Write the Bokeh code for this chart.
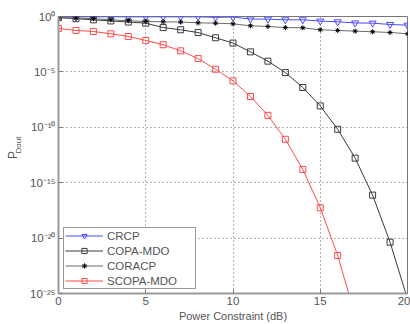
from bokeh.plotting import figure
from bokeh.models import (Range1d, FixedTicker, CustomJSTickFormatter, Legend,
                          LegendItem, LogAxis)
from bokeh.embed import file_html
from bokeh.resources import INLINE

# Power constraint (dB)
power_db = list(range(0, 21))

# log10 of outage probability
crcp_exp = [-0.03, -0.03, -0.03, -0.03, -0.03, -0.03, -0.03, -0.03, -0.03, -0.08, -0.05,
            -0.23, -0.24, -0.30, -0.30, -0.41, -0.48, -0.58, -0.60, -0.72, -0.78]
copa_exp = [-0.10, -0.20, -0.30, -0.40, -0.50, -0.60, -1.00, -1.20, -1.45, -1.92, -2.40,
            -3.19, -4.03, -5.06, -6.41, -8.07, -10.18, -12.78, -16.12, -20.37, -25.50]
coracp_exp = [-0.12, -0.13, -0.20, -0.30, -0.38, -0.45, -0.48, -0.50, -0.57, -0.60, -0.66,
              -0.84, -0.90, -1.00, -1.02, -1.20, -1.26, -1.32, -1.38, -1.44, -1.56]
scopa_x = list(range(0, 18))
scopa_exp = [-1.08, -1.26, -1.35, -1.56, -1.80, -2.16, -2.55, -3.10, -3.80, -4.76, -5.81,
             -7.22, -8.92, -11.08, -13.80, -17.26, -21.57, -27.00]

y_ticks = [1e-25, 1e-20, 1e-15, 1e-10, 1e-5, 1.0]
x_ticks = [0, 5, 10, 15, 20]
series_names = ["CRCP", "COPA-MDO", "CORACP", "SCOPA-MDO"]

FONT = "Liberation Sans"
TXT = "#555555"

p = figure(width=410, height=324, output_backend="svg", toolbar_location=None,
           y_axis_type="log", x_range=Range1d(0, 20), y_range=Range1d(1e-25, 1.0),
           min_border_left=58, min_border_right=3, min_border_top=16, min_border_bottom=31)
p.background_fill_color = "white"
p.border_fill_color = "white"
p.outline_line_color = "#777777"
p.outline_line_width = 1

def pw(exps):
    return [10.0 ** e for e in exps]

blue = "#4a4aff"
red = "#ff4a4a"
dark = "#3a3a3a"
gray = "#6a6a6a"

r1l = p.line(power_db, pw(crcp_exp), line_color=blue, line_width=1)
r1m = p.scatter(power_db, pw(crcp_exp), marker="inverted_triangle", size=7,
                line_color=blue, fill_color=None, line_width=1)
r2l = p.line(power_db, pw(copa_exp), line_color=dark, line_width=1)
r2m = p.scatter(power_db, pw(copa_exp), marker="square", size=6,
                line_color=dark, fill_color=None, line_width=1)
r3l = p.line(power_db, pw(coracp_exp), line_color=gray, line_width=1)
r3m = p.scatter(power_db, pw(coracp_exp), marker="asterisk", size=5,
                line_color="black", line_width=1)
r4l = p.line(scopa_x, pw(scopa_exp), line_color=red, line_width=1)
r4m = p.scatter(scopa_x, pw(scopa_exp), marker="square", size=6,
                line_color=red, fill_color=None, line_width=1)

# axes
p.xaxis.ticker = FixedTicker(ticks=x_ticks)
p.yaxis.ticker = FixedTicker(ticks=y_ticks)
p.yaxis.formatter = CustomJSTickFormatter(code="""
const sup = {'0':'\u2070','1':'\u00b9','2':'\u00b2','3':'\u00b3','4':'\u2074','5':'\u2075',
             '6':'\u2076','7':'\u2077','8':'\u2078','9':'\u2079','-':'\u207b'};
const e = String(Math.round(Math.log10(tick)));
let s = '';
for (const c of e) s += sup[c];
return '10' + s;
""")
for ax in (p.xaxis[0], p.yaxis[0]):
    ax.axis_line_color = "#999999"
    ax.axis_line_width = 2
    ax.major_tick_in = 4
    ax.major_tick_out = 0
    ax.major_tick_line_color = "#777777"
    ax.minor_tick_line_color = None
    ax.major_label_text_font = FONT
    ax.major_label_text_font_size = "11.5px"
    ax.major_label_text_color = TXT
p.xaxis.major_label_standoff = 3
p.yaxis.major_label_standoff = 3
p.xaxis.axis_label = "Power Constraint (dB)"
p.xaxis.axis_label_text_font = FONT
p.xaxis.axis_label_text_font_size = "11px"
p.xaxis.axis_label_text_font_style = "normal"
p.xaxis.axis_label_text_color = TXT
p.xaxis.axis_label_standoff = 2

# y-axis label P_Dout: subscript on the main axis, "P" on an outer label-only axis
p.yaxis.axis_label = "\u00a0" * 9 + "Dout"
p.yaxis.axis_label_text_font = FONT
p.yaxis.axis_label_text_font_size = "8px"
p.yaxis.axis_label_text_font_style = "normal"
p.yaxis.axis_label_text_color = TXT
p.yaxis.axis_label_standoff = 4

p_axis = LogAxis(axis_label="P", ticker=FixedTicker(ticks=[]),
                 axis_line_color=None, major_tick_line_color=None,
                 minor_tick_line_color=None, major_label_text_font_size="0px",
                 axis_label_text_font=FONT, axis_label_text_font_size="12px",
                 axis_label_text_font_style="normal", axis_label_text_color=TXT,
                 axis_label_standoff=-8, major_label_standoff=0)
p.add_layout(p_axis, "left")

p.grid.grid_line_color = "#666666"
p.grid.grid_line_dash = "1 3"
p.grid.grid_line_width = 1
p.ygrid.minor_grid_line_color = None

legend = Legend(items=[
    LegendItem(label=series_names[0], renderers=[r1l, r1m]),
    LegendItem(label=series_names[1], renderers=[r2l, r2m]),
    LegendItem(label=series_names[2], renderers=[r3l, r3m]),
    LegendItem(label=series_names[3], renderers=[r4l, r4m]),
], location=(5, 4))
legend.label_text_font = FONT
legend.label_text_font_size = "11.5px"
legend.label_text_color = TXT
legend.glyph_width = 38
legend.glyph_height = 13
legend.label_height = 13
legend.label_width = 87
legend.spacing = 2
legend.padding = 1
legend.margin = 0
legend.label_standoff = 4
legend.border_line_color = "#333333"
legend.border_line_width = 1
legend.background_fill_alpha = 1
p.add_layout(legend)

open("out.html", "w").write(file_html(p, INLINE))
